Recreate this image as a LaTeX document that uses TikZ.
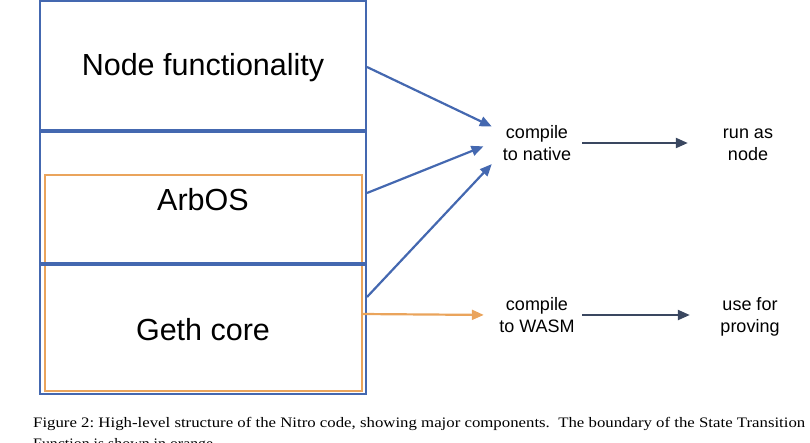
\documentclass[tikz,border=0pt]{standalone}
\usepackage{fontspec}
\setmainfont{Liberation Sans}
\newfontfamily\capfont{Liberation Serif}
\usetikzlibrary{arrows.meta}
\definecolor{nitroblue}{RGB}{68,104,176}
\definecolor{stforange}{RGB}{234,164,92}
\definecolor{darkarrow}{RGB}{58,71,96}

\begin{document}
\begin{tikzpicture}[x=1pt, y=-1pt,
		layer/.style={font=\fontsize{30.5}{36}\selectfont, inner sep=0pt},
		stage/.style={font=\fontsize{18}{22}\selectfont, align=center, minimum width=90pt},
		result/.style={font=\fontsize{18}{22}\selectfont, align=center, minimum width=120pt},
		flow/.style={-{Triangle[length=12pt, width=10pt]}, line width=2.2pt},
		caption/.style={anchor=base west, inner sep=0pt, font=\capfont\fontsize{14.5}{18}\selectfont}]
			%%%%% START %%%%%
			
			\useasboundingbox (0, 0) rectangle (810, 442);
			
			% code layers
			\draw[line width=2.4pt, color=nitroblue] (40, 1.2) rectangle (366, 394);
			\draw[line width=2.4pt, color=stforange] (45, 175) rectangle (362, 391);
			\draw[line width=4.5pt, color=nitroblue] (40, 131) -- (366, 131);
			\draw[line width=4.5pt, color=nitroblue] (40, 264) -- (366, 264);
			
			\node[layer] (nf) at (203, 68) {Node functionality};
			\node[layer] (arbos) at (203, 200) {ArbOS};
			\node[layer] (geth) at (203, 330) {Geth core};
			
			\coordinate (nfout) at (367, 67);
			\coordinate (arbosout) at (367, 193);
			\coordinate (gethout) at (367, 297);
			\coordinate (stfout) at (362, 314);
			
			% build targets
			\node[stage] (native) at (537, 143) {compile\\to native};
			\node[stage] (wasm) at (537, 315) {compile\\to WASM};
			\node[result] (run) at (748, 144.5) {run as\\node};
			\node[result] (prove) at (750, 316.5) {use for\\proving};
			
			\draw[flow, color=nitroblue] (nfout) -- (native.160);
			\draw[flow, color=nitroblue, shorten >=9pt] (arbosout) -- (native.west);
			\draw[flow, color=nitroblue] (gethout) -- (native.205);
			\draw[flow, color=stforange, shorten >=8pt] (stfout) -- (wasm.west);
			
			\draw[flow, color=darkarrow] (native.east) -- (native.east -| run.west);
			\draw[flow, color=darkarrow] (wasm.east) -- (wasm.east -| prove.west);
			
			% caption
			\begin{scope}
				\clip (0, 0) rectangle (810, 442);
				\node[caption] (cap1) at (33, 427) {\resizebox{772pt}{\height}{Figure 2:\ High-level structure of the Nitro code, showing major components.\ \ The boundary of the State Transition}};
				\node[caption] (cap2) at (33, 448) {\resizebox{184pt}{\height}{Function is shown in orange.}};
			\end{scope}
			
			%%%%% END %%%%%
\end{tikzpicture}
\end{document}
